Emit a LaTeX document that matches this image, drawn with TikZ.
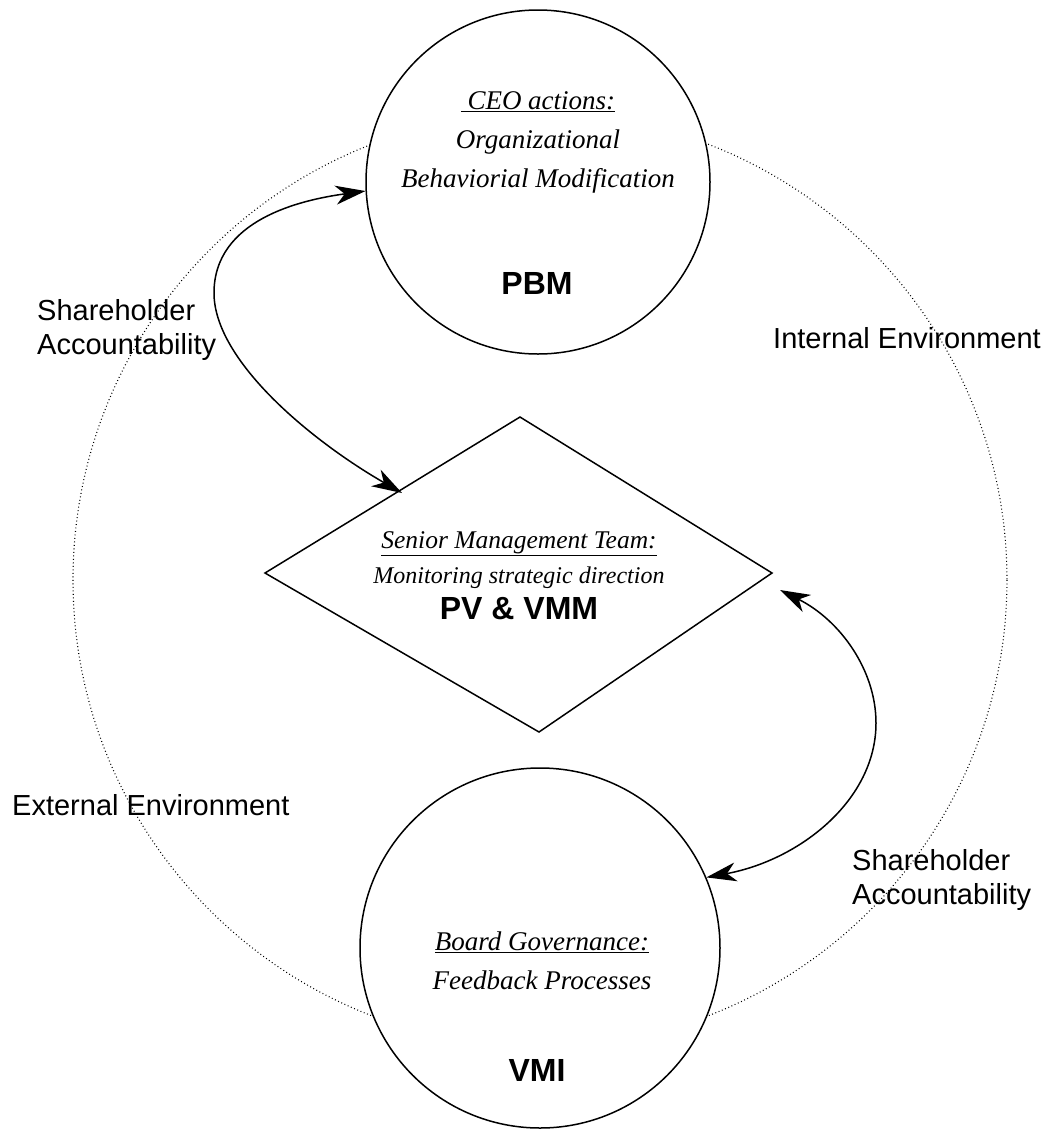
\documentclass[tikz,border=0pt]{standalone}
\usepackage{fontspec}
\setmainfont{Liberation Serif}
\setsansfont{Liberation Sans}
\usetikzlibrary{arrows.meta}

\begin{document}
\begin{tikzpicture}[x=1pt,y=-1pt,
  ring/.style={circle, draw, line width=1.5pt, fill=white, minimum size=#1, inner sep=0pt},
  envline/.style={line width=1.1pt, dash pattern=on 0.9pt off 2.6pt},
  lbl/.style={font=\sffamily\fontsize{29}{34}\selectfont, align=left, inner sep=0pt},
  itl/.style={font=\itshape\fontsize{27}{39}\selectfont, align=center, inner sep=0pt},
  itlsmall/.style={font=\itshape\fontsize{24}{35}\selectfont, align=center, inner sep=0pt},
  code/.style={font=\sffamily\bfseries\fontsize{32}{38}\selectfont, inner sep=0pt},
  link/.style={line width=1.5pt, {Stealth[length=30pt,width=19pt,inset=9pt]}-{Stealth[length=30pt,width=19pt,inset=9pt]}}
]
% canvas
\path[use as bounding box, fill=white] (0,0) rectangle (1052,1136);

% boundary between internal and external environment
\draw[envline] (540,580) circle[radius=467];

% the two circles
\node[ring=344pt] (ceo) at (538,182) {};
\node[ring=360pt] (board) at (540,948) {};

% the diamond
\coordinate (dTop) at (520,417);
\coordinate (dRight) at (772,573);
\coordinate (dBottom) at (539,732);
\coordinate (dLeft) at (265,573);
\draw[line width=1.5pt, fill=white, line join=miter] (dTop) -- (dRight) -- (dBottom) -- (dLeft) -- cycle;

% texts inside the shapes
\node[itl] (ceoText) at (538,142) {\underline{\ CEO actions:}\\Organizational\\Behaviorial Modification};
\node[code] (pbm) at (537,283) {PBM};

\node[itlsmall] (smtText) at (519,560) {{\fontsize{25.5}{35}\selectfont\underline{Senior Management Team:}}\\Monitoring strategic direction};
\node[code] (pvvmm) at (519,609) {PV \& VMM};

\node[itl] (boardText) at (542,961) {\underline{Board Governance:}\\Feedback Processes};
\node[code] (vmi) at (537,1070) {VMI};

% outer labels
\node[lbl, anchor=west] (shLeft) at (37,330) {Shareholder\\Accountability};
\node[lbl, anchor=west] (internal) at (773,338) {Internal Environment};
\node[lbl, anchor=west] (external) at (12,805) {External Environment};
\node[lbl, anchor=west] (shRight) at (852,880) {Shareholder\\Accountability};

% arrow end points
\coordinate (ceoIn) at (ceo.183);
\coordinate (boardIn) at (board.23);
\coordinate (dUpIn) at (402,493);
\coordinate (dLowIn) at (780,590);
\coordinate (leftBend) at (214,293);
\coordinate (rightBend) at (876,723);

% shareholder accountability loops
\draw[link] (dUpIn) .. controls (310,440) and (214,360) .. (leftBend)
  .. controls (214,220) and (300,200) .. (ceoIn);
\draw[link] (dLowIn) .. controls (840,620) and (876,670) .. (rightBend)
  .. controls (876,800) and (800,860) .. (boardIn);
\end{tikzpicture}
\end{document}
